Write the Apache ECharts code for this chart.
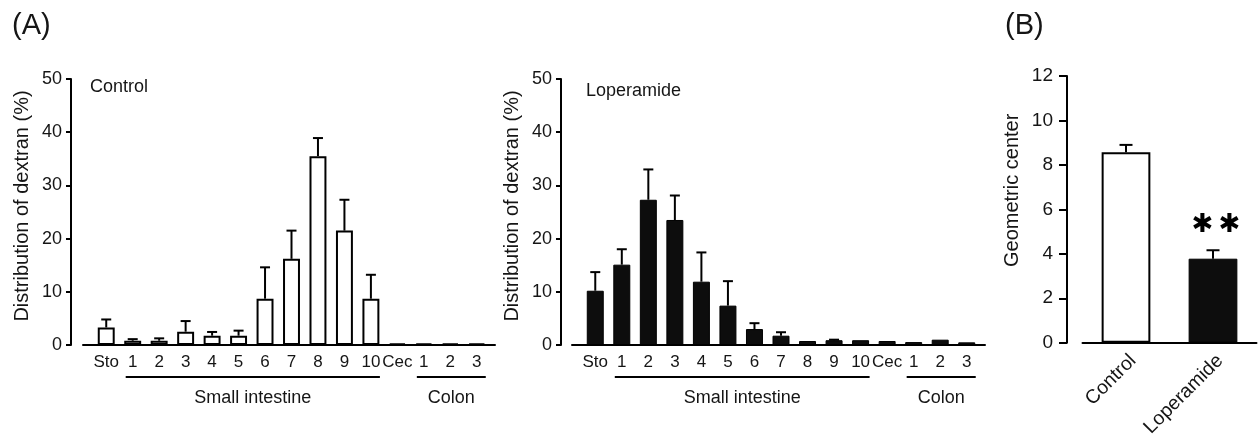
<!DOCTYPE html>
<html><head><meta charset="utf-8">
<script src="https://cdn.jsdelivr.net/npm/echarts@6/dist/echarts.min.js"></script>
<style>html,body{margin:0;padding:0;background:#fff}#c{width:1258px;height:440px}</style>
</head><body><div id="c"></div>
<script>
// ---- data ----
const categories = ['Sto','1','2','3','4','5','6','7','8','9','10','Cec','1','2','3'];
const controlMean = [3.3,0.8,0.8,2.5,1.75,1.75,8.7,16.2,35.5,21.5,8.7,0.3,0.3,0.3,0.3];
const controlErr  = [1.5,0.3,0.45,2.0,0.7,0.95,5.9,5.3,3.4,5.8,4.5,0,0,0,0];
const loperamideMean = [10.2,15.1,27.3,23.5,11.9,7.4,3.0,1.75,0.75,0.9,0.9,0.75,0.55,1.0,0.5];
const loperamideErr  = [3.5,2.9,5.7,4.6,5.5,4.6,1.1,0.65,0,0.1,0,0,0,0,0];
const segmentGroups = ['Small intestine','Colon'];
const groupStart = [1,12];
const groupEnd = [10,14];
const gcCategories = ['Control','Loperamide'];
const gcMean = [8.57,3.78];
const gcErr = [0.33,0.38];
const gcSig = ['','\u2731\u2009\u2731'];
const yTicksA = [0,10,20,30,40,50];
const yTicksB = [0,2,4,6,8,10,12];

// ---- chart ----
const FONT = '"Liberation Sans", Arial, sans-serif';
const TXT = '#151515';
const chart = echarts.init(document.getElementById('c'));

function errItem(hw){
  return function(params, api){
    const i = api.value(0), m = api.value(1), e = api.value(2);
    if (!(e > 0)) return null;
    const p0 = api.coord([i, m]), p1 = api.coord([i, m + e]);
    return {type:'group', children:[
      {type:'line', shape:{x1:p0[0],y1:p0[1],x2:p1[0],y2:p1[1]}, style:{stroke:'#000',lineWidth:2}},
      {type:'line', shape:{x1:p1[0]-hw,y1:p1[1],x2:p1[0]+hw,y2:p1[1]}, style:{stroke:'#000',lineWidth:2}}
    ]};
  };
}
function groupItem(params, api){
  const a = api.coord([api.value(0), 0]), b = api.coord([api.value(1), 0]);
  return {type:'group', children:[
    {type:'line', shape:{x1:a[0]-7,y1:a[1]+32,x2:b[0]+9,y2:b[1]+32}, style:{stroke:'#000',lineWidth:2}},
    {type:'text', style:{text:segmentGroups[params.dataIndex], x:(a[0]+b[0])/2+1, y:a[1]+53,
      align:'center', verticalAlign:'middle', fontSize:18, fontFamily:FONT, fill:TXT}}
  ]};
}
function sigItem(params, api){
  const i = api.value(0), m = api.value(1), e = api.value(2);
  const p = api.coord([i, m + e]);
  const s = gcSig[params.dataIndex];
  if (!s) return null;
  return {type:'text', style:{text:s, x:p[0]+3, y:p[1]-25, align:'center', verticalAlign:'middle',
    fontSize:26, fontFamily:'"DejaVu Sans", sans-serif', fill:'#000'}};
}

function yAxisA(gridIndex, offset){
  return {type:'value', gridIndex, min:yTicksA[0], max:yTicksA[yTicksA.length-1], interval:yTicksA[1]-yTicksA[0],
    offset, name:'Distribution of dextran (%)', nameLocation:'middle', nameGap:39, nameRotate:90,
    nameTextStyle:{fontSize:20, fontFamily:FONT, color:TXT, padding:[0,0,0,12]},
    axisLine:{show:true, lineStyle:{color:'#000', width:2}},
    axisTick:{show:true, length:5, lineStyle:{color:'#000', width:2}},
    axisLabel:{fontSize:18, fontFamily:FONT, color:TXT, margin:9},
    splitLine:{show:false}};
}
function xAxisA(gridIndex){
  return {type:'category', gridIndex, data:categories, boundaryGap:true,
    axisLine:{show:false}, axisTick:{show:false},
    axisLabel:{interval:0, fontSize:17, fontFamily:FONT, color:TXT, margin:9}};
}
function lineAxes(gridIndex){
  return [
    {type:'value', gridIndex, min:0, max:1, axisLine:{show:true, onZero:false, lineStyle:{color:'#000', width:2}},
      axisTick:{show:false}, axisLabel:{show:false}, splitLine:{show:false}},
    {type:'value', gridIndex, min:0, max:1, show:false}
  ];
}
const la1 = lineAxes(4), la2 = lineAxes(5);

chart.setOption({
  animation:false,
  backgroundColor:'#fff',
  textStyle:{fontFamily:FONT},
  title:[
    {text:'(A)', left:7, top:6, textStyle:{fontSize:29, fontWeight:'normal', fontFamily:FONT, color:TXT}},
    {text:'(B)', left:1000, top:6, textStyle:{fontSize:29, fontWeight:'normal', fontFamily:FONT, color:TXT}},
    {text:'Control', left:85, top:73, textStyle:{fontSize:18, fontWeight:'normal', fontFamily:FONT, color:TXT}},
    {text:'Loperamide', left:581, top:77, textStyle:{fontSize:18, fontWeight:'normal', fontFamily:FONT, color:TXT}}
  ],
  grid:[
    {left:93, width:397, top:79, height:266},
    {left:582, width:398, top:79, height:266},
    {left:1082.5, width:174, top:76, height:266.7},
    {left:0, width:1, top:0, height:1},
    {left:83, width:412, top:79, height:266},
    {left:572, width:413, top:79, height:266}
  ],
  xAxis:[
    xAxisA(0), xAxisA(1),
    {type:'category', gridIndex:2, data:gcCategories, boundaryGap:true,
      axisLine:{show:true, lineStyle:{color:'#000', width:2}}, axisTick:{show:false},
      axisLabel:{interval:0, rotate:45, fontSize:19.5, fontFamily:FONT, color:TXT, margin:8, verticalAlign:'top'}},
    {type:'value', gridIndex:3, show:false},
    la1[0], la2[0]
  ],
  yAxis:[
    yAxisA(0, 22), yAxisA(1, 21),
    {type:'value', gridIndex:2, min:yTicksB[0], max:yTicksB[yTicksB.length-1], interval:yTicksB[1]-yTicksB[0],
      offset:15.5, name:'Geometric center', nameLocation:'middle', nameGap:45, nameRotate:90,
      nameTextStyle:{fontSize:20, fontFamily:FONT, color:TXT, padding:[0,0,0,38]},
      axisLine:{show:true, lineStyle:{color:'#000', width:2}},
      axisTick:{show:true, length:8, lineStyle:{color:'#000', width:2}},
      axisLabel:{fontSize:19, fontFamily:FONT, color:TXT, margin:14},
      splitLine:{show:false}},
    {type:'value', gridIndex:3, show:false},
    la1[1], la2[1]
  ],
  series:[
    {type:'bar', xAxisIndex:0, yAxisIndex:0, data:controlMean, barWidth:'64%',
      itemStyle:{color:'#fff', borderColor:'#000', borderWidth:2}},
    {type:'custom', xAxisIndex:0, yAxisIndex:0, renderItem:errItem(5), z:3,
      data:controlMean.map((m,i)=>[i,m,controlErr[i]])},
    {type:'custom', xAxisIndex:0, yAxisIndex:0, renderItem:groupItem, clip:false, silent:true,
      data:groupStart.map((s,k)=>[s,groupEnd[k],0])},
    {type:'bar', xAxisIndex:1, yAxisIndex:1, data:loperamideMean, barWidth:'64%',
      itemStyle:{color:'#0d0d0d', borderColor:'#000', borderWidth:1}},
    {type:'custom', xAxisIndex:1, yAxisIndex:1, renderItem:errItem(5), z:3,
      data:loperamideMean.map((m,i)=>[i,m,loperamideErr[i]])},
    {type:'custom', xAxisIndex:1, yAxisIndex:1, renderItem:groupItem, clip:false, silent:true,
      data:groupStart.map((s,k)=>[s,groupEnd[k],0])},
    {type:'bar', xAxisIndex:2, yAxisIndex:2, barWidth:'56%',
      data:[
        {value:gcMean[0], itemStyle:{color:'#fff', borderColor:'#000', borderWidth:2}},
        {value:gcMean[1], itemStyle:{color:'#0d0d0d', borderColor:'#000', borderWidth:1}}
      ]},
    {type:'custom', xAxisIndex:2, yAxisIndex:2, renderItem:errItem(6.5), z:3,
      data:gcMean.map((m,i)=>[i,m,gcErr[i]])},
    {type:'custom', xAxisIndex:2, yAxisIndex:2, renderItem:sigItem, clip:false, z:4,
      data:gcMean.map((m,i)=>[i,m,gcErr[i]])}
  ]
});
</script>
</body></html>
